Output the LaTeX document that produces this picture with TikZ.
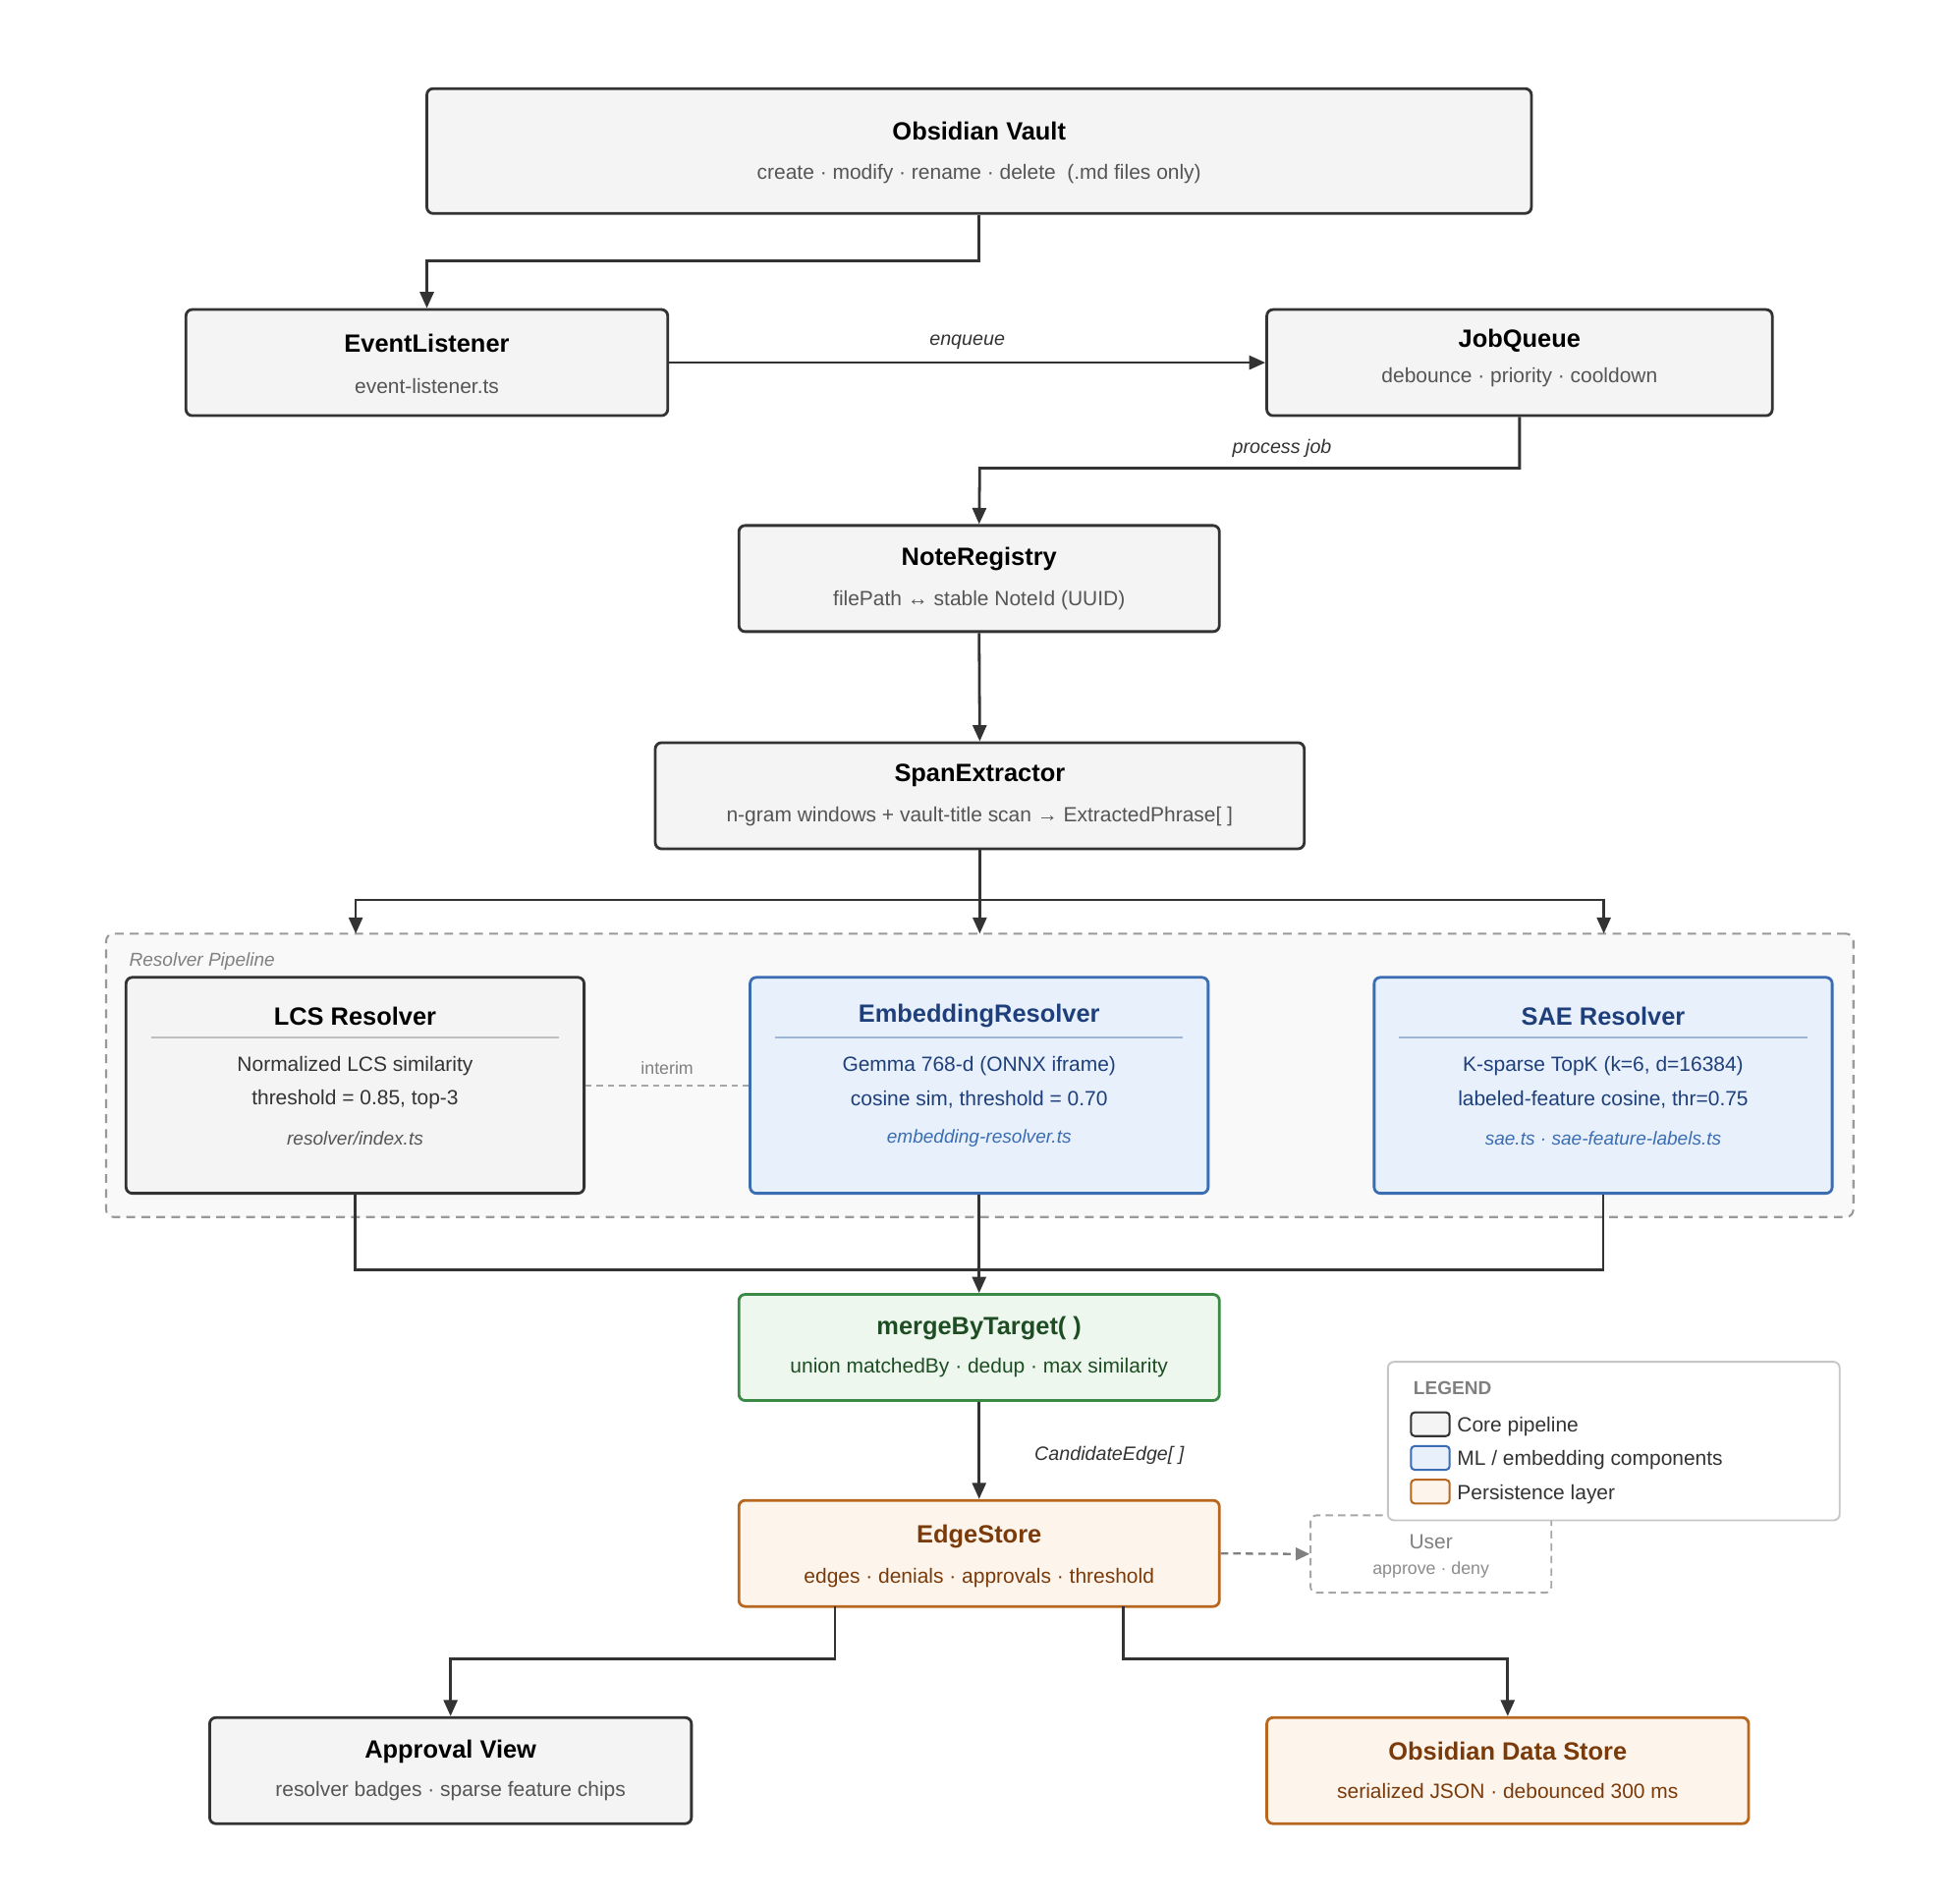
\documentclass[tikz,border=0pt]{standalone}
\usepackage{fontspec}
\setmainfont{Liberation Sans}
\usetikzlibrary{arrows.meta,calc}
\definecolor{coref}{HTML}{F4F4F4}\definecolor{cored}{HTML}{333333}
\definecolor{mlf}{HTML}{E8F0FB}\definecolor{mld}{HTML}{3B6DB3}\definecolor{mlt}{HTML}{1F3F7A}
\definecolor{grf}{HTML}{EDF7EE}\definecolor{grd}{HTML}{3A8A45}\definecolor{grt}{HTML}{1E4D24}
\definecolor{orf}{HTML}{FDF5EC}\definecolor{ord}{HTML}{B8671F}\definecolor{ort}{HTML}{7A3A0A}
\definecolor{subt}{HTML}{555555}
\begin{document}
\begin{tikzpicture}[x=1pt,y=-1pt,
 box/.style={draw=cored,fill=coref,line width=2.2pt,rounded corners=5pt,inner sep=0pt},
 ml/.style={box,draw=mld,fill=mlf},
 gr/.style={box,draw=grd,fill=grf},
 pe/.style={box,draw=ord,fill=orf},
 ttl/.style={font=\fontsize{20}{24}\selectfont\bfseries,text=black},
 sub/.style={font=\fontsize{16.5}{20}\selectfont,text=subt},
 fil/.style={font=\fontsize{15}{18}\selectfont\itshape,text=subt},
 lab/.style={font=\fontsize{15.5}{18}\selectfont\itshape,text=cored},
 arr/.style={draw=cored,line width=2.2pt,-{Triangle[length=13pt,width=11pt]}},
 ln/.style={draw=cored,line width=2.2pt}]
\useasboundingbox (0,0) rectangle (1560,1525);
\fill[white] (0,0) rectangle (1560,1525);
% pipeline container
\node[draw=gray!80,fill=gray!5,dashed,dash pattern=on 7pt off 5pt,line width=1.6pt,rounded corners=6pt,minimum width=1400pt,minimum height=227pt,inner sep=0pt] (pipe) at (785,861.5) {};
\node[anchor=west,font=\fontsize{15}{18}\selectfont\itshape,text=gray] (pipel) at (100,770) {Resolver Pipeline};
% boxes
\node[box,minimum width=885pt,minimum height=100pt] (vault) at (784.5,121) {};
\node[ttl] (vaultt) at (784.5,105) {Obsidian Vault};
\node[sub] (vaults) at (784.5,139) {create · modify · rename · delete\ \ (.md files only)};
\node[box,minimum width=386pt,minimum height=85pt] (el) at (342,290.5) {};
\node[ttl] (elt) at (342,275) {EventListener};
\node[sub] (els) at (342,309) {event-listener.ts};
\node[box,minimum width=405pt,minimum height=85pt] (jq) at (1217.5,290.5) {};
\node[ttl] (jqt) at (1217.5,273) {JobQueue};
\node[sub] (jqs) at (1217.5,302) {debounce · priority · cooldown};
\node[box,minimum width=385pt,minimum height=85pt] (nr) at (784.5,463.5) {};
\node[ttl] (nrt) at (784.5,448) {NoteRegistry};
\node[sub] (nrs) at (784.5,481) {filePath ↔ stable NoteId (UUID)};
\node[box,minimum width=520pt,minimum height=85pt] (se) at (785,637.5) {};
\node[ttl] (set) at (785,621) {SpanExtractor};
\node[sub] (ses) at (785,654) {n-gram windows + vault-title scan → ExtractedPhrase[ ]};
% resolvers
\node[box,minimum width=367pt,minimum height=173pt] (lcs) at (284.5,869.5) {};
\node[ttl] (lcst) at (284.5,814) {LCS Resolver};
\draw[gray!50,line width=1.2pt] (121,831) -- (448,831);
\node[sub,text=cored] (lcs1) at (284.5,854) {Normalized LCS similarity};
\node[sub,text=cored] (lcs2) at (284.5,881) {threshold = 0.85, top-3};
\node[fil] (lcs3) at (284.5,912) {resolver/index.ts};
\node[ml,minimum width=367pt,minimum height=173pt] (emb) at (784.5,869.5) {};
\node[ttl,text=mlt] (embt) at (784.5,814) {EmbeddingResolver};
\draw[mld!50,line width=1.2pt] (621,831) -- (948,831);
\node[sub,text=mlt] (emb1) at (784.5,854) {Gemma 768-d (ONNX iframe)};
\node[sub,text=mlt] (emb2) at (784.5,881) {cosine sim, threshold = 0.70};
\node[fil,text=mld] (emb3) at (784.5,912) {embedding-resolver.ts};
\node[ml,minimum width=367pt,minimum height=173pt] (sae) at (1284.5,869.5) {};
\node[ttl,text=mlt] (saet) at (1284.5,814) {SAE Resolver};
\draw[mld!50,line width=1.2pt] (1121,831) -- (1448,831);
\node[sub,text=mlt] (sae1) at (1284.5,854) {K-sparse TopK (k=6, d=16384)};
\node[sub,text=mlt] (sae2) at (1284.5,881) {labeled-feature cosine, thr=0.75};
\node[fil,text=mld] (sae3) at (1284.5,912) {sae.ts · sae-feature-labels.ts};
% merge, edge store
\node[gr,minimum width=385pt,minimum height=85pt] (mg) at (784.5,1079.5) {};
\node[ttl,text=grt] (mgt) at (784.5,1064) {mergeByTarget( )};
\node[sub,text=grt] (mgs) at (784.5,1096) {union matchedBy · dedup · max similarity};
\node[pe,minimum width=385pt,minimum height=85pt] (es) at (784.5,1244.5) {};
\node[ttl,text=ort] (est) at (784.5,1231) {EdgeStore};
\node[sub,text=ort] (ess) at (784.5,1264) {edges · denials · approvals · threshold};
\node[draw=gray!70,dashed,dash pattern=on 6pt off 4pt,line width=1.5pt,rounded corners=5pt,minimum width=193pt,minimum height=62pt,inner sep=0pt] (user) at (1146.5,1245) {};
\node[sub,text=gray] (usert) at (1146.5,1235) {User};
\node[font=\fontsize{14}{17}\selectfont,text=gray!90] (users) at (1146.5,1258) {approve · deny};
% bottom
\node[box,minimum width=386pt,minimum height=85pt] (av) at (361,1418.5) {};
\node[ttl] (avt) at (361,1403) {Approval View};
\node[sub] (avs) at (361,1435) {resolver badges · sparse feature chips};
\node[pe,minimum width=386pt,minimum height=85pt] (ds) at (1208,1418.5) {};
\node[ttl,text=ort] (dst) at (1208,1403) {Obsidian Data Store};
\node[sub,text=ort] (dss) at (1208,1435) {serialized JSON · debounced 300 ms};
% legend
\node[draw=gray!45,fill=white,line width=1.5pt,rounded corners=5pt,minimum width=362pt,minimum height=127pt,inner sep=0pt] (leg) at (1293,1154.5) {};
\node[anchor=west,font=\fontsize{15}{18}\selectfont\bfseries,text=gray] (legt) at (1129,1112) {LEGEND};
\node[box,line width=1.6pt,rounded corners=3pt,minimum width=31pt,minimum height=19pt] (lg1) at (1146,1141) {};
\node[anchor=west,sub,text=cored] (lg1t) at (1164,1143) {Core pipeline};
\node[ml,line width=1.6pt,rounded corners=3pt,minimum width=31pt,minimum height=19pt] (lg2) at (1146,1168) {};
\node[anchor=west,sub,text=cored] (lg2t) at (1164,1170) {ML / embedding components};
\node[pe,line width=1.6pt,rounded corners=3pt,minimum width=31pt,minimum height=19pt] (lg3) at (1146,1195) {};
\node[anchor=west,sub,text=cored] (lg3t) at (1164,1197) {Persistence layer};
% connectors
\draw[arr] (vault.south) |- (342,209) -- (el.north);
\draw[arr] (el.east) -- node[lab,above=6pt] {enqueue} (jq.west);
\draw[arr] (jq.south) |- node[lab,pos=0.72,above=4pt] {process job} (785,375) -- (nr.north);
\draw[arr] (nr.south) -- (se.north);
\coordinate (sp) at (785,721);
\draw[ln] (se.south) -- (sp);
\draw[arr] (sp) -| (285,748);
\draw[arr] (sp) -| (1285,748);
\draw[arr] (sp) -- (785,748);
\draw[ln] (lcs.south) |- (785,1017);
\draw[ln] (sae.south) |- (785,1017);
\draw[arr] (emb.south) -- (mg.north);
\draw[arr] (mg.south) -- node[lab,right=40pt,pos=0.55] {CandidateEdge[ ]} (es.north);
\draw[draw=gray,line width=1.8pt,dashed,dash pattern=on 6pt off 4pt,-{Triangle[length=11pt,width=10pt]}] (es.east) -- (user.west);
\draw[draw=gray!70,line width=1.4pt,dashed,dash pattern=on 5pt off 4pt] (lcs.east) -- node[above=5pt,font=\fontsize{14}{17}\selectfont,text=gray] {interim} (emb.west);
\draw[arr] (669,1287) |- (361,1329) -- (av.north);
\draw[arr] (900,1287) |- (1208,1329) -- (ds.north);
\end{tikzpicture}
\end{document}
